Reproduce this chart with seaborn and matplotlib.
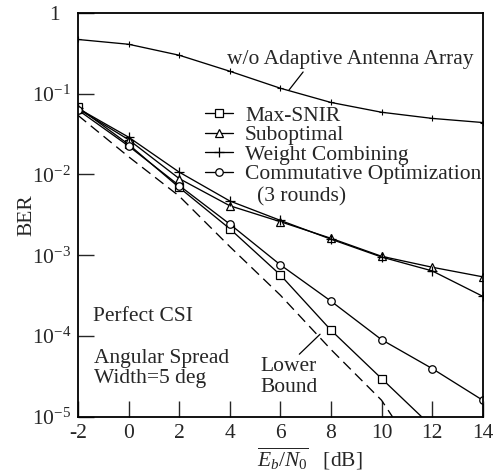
import numpy as np
import pandas as pd
import matplotlib
matplotlib.use("Agg")
import matplotlib.pyplot as plt
import seaborn as sns
from matplotlib.ticker import FixedLocator, FuncFormatter, NullLocator

# Eb/N0 grid [dB]
snr_db = [-2, 0, 2, 4, 6, 8, 10, 12, 14]

# BER curves
ber_no_array = [0.47, 0.41, 0.30, 0.19, 0.117, 0.078, 0.059, 0.0495, 0.044]
ber_max_snir = [0.068, 0.0236, 0.0069, 0.00213, 5.7e-4, 1.18e-4, 2.97e-5, 7.5e-6]
ber_suboptimal = [0.065, 0.027, 0.0089, 0.0041, 0.0026, 0.00162, 9.7e-4, 7.1e-4, 5.4e-4]
ber_weight_comb = [0.066, 0.029, 0.0107, 0.0047, 0.0027, 0.00158, 9.5e-4, 6.4e-4, 3.1e-4]
ber_commutative = [0.063, 0.0225, 0.0073, 0.00243, 7.6e-4, 2.7e-4, 9.0e-5, 3.95e-5, 1.6e-5]
ber_lower_bound = [0.054, 0.0166, 0.0054, 0.00128, 3.2e-4, 6.8e-5, 1.6e-5, 1.8e-6]

legend_labels = ["Max-SNIR", "Suboptimal", "Weight Combining", "Commutative Optimization"]

sns.set_style("ticks")
plt.rcParams["font.family"] = ["Liberation Serif", "DejaVu Serif"]
plt.rcParams["mathtext.fontset"] = "custom"
plt.rcParams["mathtext.rm"] = "Liberation Serif"
plt.rcParams["mathtext.it"] = "Liberation Serif:italic"
plt.rcParams["axes.linewidth"] = 1.3

fig = plt.figure(figsize=(4.98, 4.71), dpi=100)
ax = fig.add_axes([0.1566, 0.1153, 0.8127, 0.8571])

fs = 15.5
lw = 0.95
common = dict(color="black", linewidth=lw, ax=ax, legend=False)
mk = dict(markerfacecolor="white", markeredgecolor="black", markeredgewidth=0.9)
tick_mk = dict(markeredgecolor="black", markerfacecolor="black")

sns.lineplot(x=snr_db, y=ber_no_array, marker="+", markersize=4,
             markeredgewidth=0.8, **tick_mk, **common)
sns.lineplot(x=snr_db[:len(ber_lower_bound)], y=ber_lower_bound,
             linestyle=(0, (8, 4.5)), **common)
l1 = sns.lineplot(x=snr_db[:len(ber_max_snir)], y=ber_max_snir, marker="s",
                  markersize=5.2, **mk, **common).lines[-1]
l2 = sns.lineplot(x=snr_db, y=ber_suboptimal, marker="^", markersize=5.6,
                  **mk, **common).lines[-1]
l3 = sns.lineplot(x=snr_db, y=ber_weight_comb, marker="+", markersize=7,
                  markeredgewidth=0.9, **tick_mk, **common).lines[-1]
l4 = sns.lineplot(x=snr_db, y=ber_commutative, marker="o", markersize=5.4,
                  **mk, **common).lines[-1]

ax.set_yscale("log")
ax.set_xlim(-2, 14)
ax.set_ylim(1e-5, 1)
ax.xaxis.set_major_locator(FixedLocator(snr_db))
ax.yaxis.set_major_locator(FixedLocator([1e-5, 1e-4, 1e-3, 1e-2, 1e-1, 1]))
ax.yaxis.set_minor_locator(NullLocator())


def decade_label(v, pos):
    e = int(round(np.log10(v)))
    return "1  " if e == 0 else r"$10^{%d}$" % e


ax.yaxis.set_major_formatter(FuncFormatter(decade_label))
ax.xaxis.set_major_formatter(FuncFormatter(lambda v, p: "%d" % v))
ax.tick_params(axis="both", direction="in", length=11.5, width=1.0,
               labelsize=fs, pad=5)
for s in ax.spines.values():
    s.set_visible(True)
    s.set_color("black")

ax.set_ylabel("BER", fontsize=fs)
ax.yaxis.set_label_coords(-0.103, 0.5)
ax.set_xlabel(r"$\overline{E_b/N_0}$   [dB]", fontsize=fs)
ax.xaxis.set_label_coords(0.573, -0.072)

leg = ax.legend([l1, l2, l3, l4], legend_labels, loc="upper left",
                bbox_to_anchor=(0.314, 0.771), frameon=False, fontsize=fs,
                handlelength=1.3, handletextpad=0.56, labelspacing=-0.02,
                borderpad=0.0, borderaxespad=0.0)

ax.text(0.442, 0.545, "(3 rounds)", transform=ax.transAxes, fontsize=fs,
        va="center", ha="left")
ax.text(0.368, 0.884, "w/o Adaptive Antenna Array", transform=ax.transAxes,
        fontsize=fs, va="center", ha="left")
ax.annotate("", xy=(6.34, 0.111), xytext=(6.9, 0.186),
            arrowprops=dict(arrowstyle="-", color="black", lw=0.9,
                            shrinkA=0, shrinkB=0))
ax.text(0.037, 0.248, "Perfect CSI", transform=ax.transAxes, fontsize=fs,
        va="center", ha="left")
ax.text(0.04, 0.12, "Angular Spread\nWidth=5 deg", transform=ax.transAxes,
        fontsize=fs, va="center", ha="left", linespacing=1.05)
ax.text(0.521, 0.098, "Lower\nBound", transform=ax.transAxes, fontsize=fs,
        va="center", ha="center", linespacing=1.15)
ax.annotate("", xy=(7.57, 1.05e-4), xytext=(6.75, 5.94e-5),
            arrowprops=dict(arrowstyle="-", color="black", lw=0.9,
                            shrinkA=0, shrinkB=0))

fig.savefig("out.png", dpi=100)
